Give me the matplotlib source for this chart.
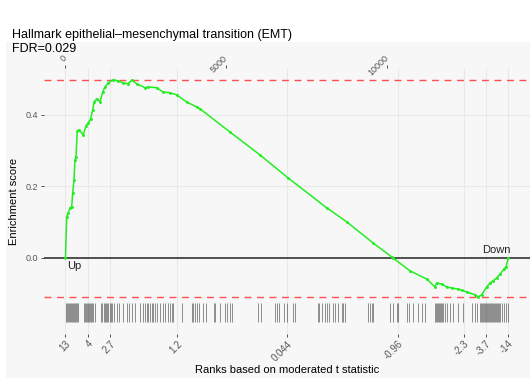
import numpy as np
import matplotlib
matplotlib.use("Agg")
import matplotlib.pyplot as plt
from matplotlib.patches import Rectangle

plt.rcParams['font.family'] = ['Liberation Sans', 'DejaVu Sans']

title = "Hallmark epithelial\u2013mesenchymal transition (EMT)"
fdr_text = "FDR=0.029"
n_genes = 13767

# running enrichment score (rank, ES)
es_rank = [0, 37, 87, 140, 193, 224, 264, 295, 326, 367, 420, 553, 637, 709, 783,
           846, 895, 970, 1073, 1157, 1228, 1331, 1486, 1642, 1788, 1943, 2058, 2214,
           2472, 2565, 2835, 3031, 3249, 3457, 3768, 4079, 4182, 5114, 6047, 6917,
           8121, 8743, 9560, 10141, 10182, 10710, 11230, 11488, 11540, 11696, 11851,
           12007, 12203, 12318, 12474, 12732, 12825, 12940, 13096, 13198, 13292,
           13406, 13509, 13633, 13696, 13767]
es_value = [0.0, 0.115, 0.126, 0.140, 0.143, 0.182, 0.218, 0.274, 0.283, 0.355, 0.358,
            0.344, 0.369, 0.378, 0.389, 0.414, 0.436, 0.445, 0.436, 0.464, 0.478, 0.490,
            0.498, 0.495, 0.490, 0.487, 0.497, 0.487, 0.476, 0.478, 0.476, 0.464, 0.462,
            0.456, 0.436, 0.422, 0.417, 0.352, 0.288, 0.224, 0.140, 0.101, 0.042, 0.003,
            0.0, -0.036, -0.059, -0.081, -0.070, -0.073, -0.081, -0.084, -0.087, -0.090,
            -0.095, -0.103, -0.109, -0.103, -0.081, -0.070, -0.064, -0.056, -0.045,
            -0.031, -0.025, 0.0]

# ranks of the gene set members
gene_ranks = [16, 47, 78, 109, 140, 171, 202, 233, 264, 295, 326, 358, 389,
              575, 606, 637, 668, 700, 731, 762, 793, 824, 855, 917,
              1104, 1135, 1197, 1228, 1259, 1290, 1321, 1384, 1415, 1446, 1508,
              1601, 1663, 1788, 1912, 1974, 2067, 2160, 2316, 2409, 2472, 2534, 2565,
              2627, 2689, 2720, 2783, 2845, 2938, 3031, 3093, 3187, 3249, 3311, 3342,
              3622, 3933, 3964, 4026, 4088, 4150, 4275, 4368, 4617, 4648, 4803, 4959,
              5021, 5114, 5176, 5985, 6078, 6513, 6575, 6637, 6793, 6886, 7072, 7134,
              7850, 7881, 7974, 8067, 8129, 8192, 8316, 8378, 8472, 8596, 8627, 8689,
              9404, 9466, 9528, 9560, 10088, 10182, 10306, 10337, 10617, 10679, 10803,
              10959, 11083, 11176, 11487, 11518, 11549, 11580, 11612, 11643, 11674,
              11705, 11736, 11798, 11860, 11953, 12047, 12202, 12358, 12638, 12731,
              12793, 12887, 12918, 12949, 12980, 13011, 13042, 13073, 13104, 13135,
              13166, 13198, 13229, 13260, 13291, 13322, 13353, 13384, 13415, 13446,
              13478, 13509, 13571, 13633, 13695, 13757]

# bottom axis: moderated t at selected ranks
t_rank = [0, 700, 1384, 3466, 6886, 10337, 12389, 13073, 13757]
t_label = ["13", "4", "2.7", "1.2", "0.044", "-0.96", "-2.3", "-3.7", "-14"]
top_ticks = [0, 5000, 10000]
y_ticks = [0.0, 0.2, 0.4]

es_max = max(es_value)
es_min = min(es_value)

fig = plt.figure(figsize=(5.3, 3.78), dpi=100)
fig.patches.append(Rectangle((6 / 530, 0), 1, 1 - 42 / 378, transform=fig.transFigure,
                             facecolor='#f7f7f7', edgecolor='none', zorder=-10))

ax = fig.add_axes([44 / 530, 1 - 334 / 378, 486 / 530, 266 / 378])
ax.set_facecolor('none')
for s in ax.spines.values():
    s.set_visible(False)

ax.set_xlim(-668, 14442)
ax.set_ylim(-0.2126, 0.531)

# grid
for r in t_rank:
    ax.axvline(r, color='#e8e8e8', lw=0.8, zorder=0)
for v in [0.2, 0.4]:
    ax.axhline(v, color='#e8e8e8', lw=0.8, zorder=0)

ax.axhline(0, color='#333333', lw=1.2, zorder=2)
ax.axhline(es_max, color='#ff3333', lw=1.0, ls=(0, (5, 4)), alpha=0.85, zorder=3)
ax.axhline(es_min, color='#ff3333', lw=1.0, ls=(0, (5, 4)), alpha=0.85, zorder=3)

ax.vlines(gene_ranks, -0.179, -0.126, color='black', lw=0.6, alpha=0.5, zorder=2)

ax.plot(es_rank, es_value, color='#22ee22', lw=1.1, marker='o', ms=1.1, zorder=4)

ax.text(60, -0.008, "Up", ha='left', va='top', fontsize=8, color='#222222')
ax.text(n_genes + 60, 0.008, "Down", ha='right', va='bottom', fontsize=8, color='#222222')

ax.set_yticks(y_ticks)
ax.set_yticklabels(["0.0", "0.2", "0.4"])
ax.set_xticks(t_rank)
ax.set_xticklabels(t_label, rotation=45, ha='right', rotation_mode='anchor')
ax.tick_params(axis='both', colors='#333333', labelcolor='#555555', labelsize=6.5,
               length=2.5, width=0.6, pad=2)
ax.tick_params(axis='x', pad=1, labelsize=7)
ax.set_ylabel("Enrichment score", fontsize=8)
ax.yaxis.set_label_coords(-0.052, 0.5)
ax.set_xlabel("Ranks based on moderated t statistic", fontsize=8)
ax.xaxis.set_label_coords(0.5, -0.115)

top = ax.secondary_xaxis('top')
top.set_xticks(top_ticks)
top.set_xticklabels([str(t) for t in top_ticks], rotation=45, ha='right', va='center',
                    rotation_mode='anchor')
top.tick_params(colors='#333333', labelcolor='#555555', labelsize=6.5,
                length=2, width=0.6, pad=6)
for s in top.spines.values():
    s.set_visible(False)

fig.text(12 / 530, 1 - 29 / 378, title, ha='left', va='top', fontsize=9)
fig.text(12 / 530, 1 - 43 / 378, fdr_text, ha='left', va='top', fontsize=9)

fig.savefig("out.png", dpi=100)
